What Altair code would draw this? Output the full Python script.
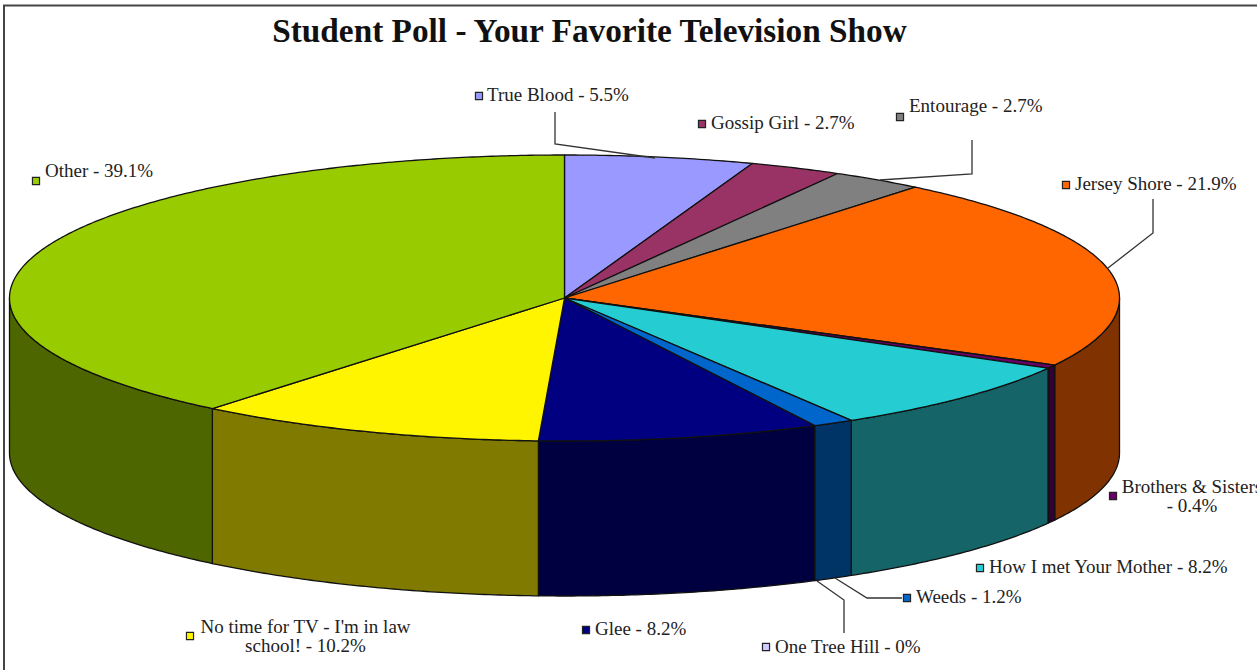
import math
import altair as alt
import pandas as pd

# Poll results, clockwise from twelve o'clock
shows = ["True Blood", "Gossip Girl", "Entourage", "Jersey Shore", "Brothers & Sisters",
         "How I met Your Mother", "Weeds", "One Tree Hill", "Glee",
         "No time for TV - I'm in law school!", "Other"]
shares = [5.5, 2.7, 2.7, 21.9, 0.4, 8.2, 1.2, 0, 8.2, 10.2, 39.1]
top_colors = ["#9999ff", "#993366", "#808080", "#ff6600", "#660066", "#25cdd2",
              "#0066cc", "#ccccff", "#000080", "#fff500", "#99cc00"]
side_colors = ["#4d4d80", "#4d1a33", "#404040", "#803300", "#330033", "#146468",
               "#003366", "#666680", "#000040", "#807a00", "#4d6600"]

# Projection of the disc onto the canvas
W, H = 1257, 670
CX, CY, RX, RY, DEPTH = 564.5, 298.0, 555.0, 143.0, 155.0
STROKE = "#111111"


def rim(angle):
    """Canvas position of a point on the disc's edge, angle in degrees clockwise from the top."""
    a = math.radians(angle)
    return CX + RX * math.sin(a), CY - RY * math.cos(a)


def arc_angles(start, end):
    n = max(2, int(abs(end - start)) * 2 + 1)
    return [start + (end - start) * i / (n - 1) for i in range(n)]


top_rows, side_rows = [], []
total = sum(shares)
start = 0.0
for name, share, fill, dark in zip(shows, shares, top_colors, side_colors):
    end = start + 360.0 * share / total
    if share > 0:
        pts = [(CX, CY)] + [rim(a) for a in arc_angles(start, end)] + [(CX, CY)]
        top_rows += [dict(show=name, fill=fill, i=i, x=x, y=y) for i, (x, y) in enumerate(pts)]
        # Only the front half of the drum wall is visible
        lo, hi = max(start, 90.0), min(end, 270.0)
        if lo < hi:
            upper = [rim(a) for a in arc_angles(lo, hi)]
            lower = [(x, y + DEPTH) for x, y in reversed(upper)]
            wall = upper + lower + upper[:1]
            side_rows += [dict(show=name, fill=dark, i=i, x=x, y=y) for i, (x, y) in enumerate(wall)]
    start = end

x_scale = alt.Scale(domain=[0, W], nice=False, zero=False)
y_scale = alt.Scale(domain=[H, 0], nice=False, zero=False)
X = alt.X("x:Q", scale=x_scale, axis=None)
Y = alt.Y("y:Q", scale=y_scale, axis=None)


def polygons(rows):
    return alt.Chart(pd.DataFrame(rows)).mark_line(
        stroke=STROKE, strokeWidth=1.3, strokeJoin="round"
    ).encode(
        x=X, y=Y,
        fill=alt.Fill("fill:N", scale=None),
        detail="show:N",
        order="i:Q",
    )


# Leader lines from the disc out to their labels
leaders = {
    "True Blood": [(555, 112), (555, 144), (655, 158)],
    "Entourage": [(972, 140), (972, 174), (880, 180)],
    "Jersey Shore": [(1153, 199), (1153, 233), (1108, 268)],
    "Weeds": [(902, 598), (867, 598), (835, 578)],
    "One Tree Hill": [(844, 633), (844, 600), (817, 581)],
}
leader_rows = [dict(show=k, i=i, x=p[0], y=p[1]) for k, path in leaders.items() for i, p in enumerate(path)]
leader_layer = alt.Chart(pd.DataFrame(leader_rows)).mark_line(color="#333333", strokeWidth=1.3).encode(
    x=X, y=Y, detail="show:N", order="i:Q"
)

# Label placement: swatch centre, then the text anchor
label_pos = {
    "True Blood": (479, 96, 487, 95),
    "Gossip Girl": (702, 124, 711, 123),
    "Entourage": (900, 117, 909, 106),
    "Jersey Shore": (1066, 185, 1075, 184),
    "Brothers & Sisters": (1113, 496, 1192, 496),
    "How I met Your Mother": (980, 568, 989, 567),
    "Weeds": (907, 598, 916, 597),
    "One Tree Hill": (766, 647, 775, 647),
    "Glee": (586, 630, 595, 629),
    "No time for TV - I'm in law school!": (190, 636, 305.5, 636),
    "Other": (36, 181, 45, 171),
}
wrapped = {
    "Brothers & Sisters": ["Brothers & Sisters", "- 0.4%"],
    "No time for TV - I'm in law school!": ["No time for TV - I'm in law", "school! - 10.2%"],
}

swatch_rows, left_rows, centre_rows = [], [], []
for name, share, fill in zip(shows, shares, top_colors):
    sx, sy, tx, ty = label_pos[name]
    swatch_rows.append(dict(x=sx, y=sy, fill=fill))
    if name in wrapped:
        lines = wrapped[name]
        centre_rows += [dict(x=tx, y=ty - 9.5 + 19.5 * i, label=t) for i, t in enumerate(lines)]
    else:
        left_rows.append(dict(x=tx, y=ty, label=f"{name} - {share:g}%"))

swatches = alt.Chart(pd.DataFrame(swatch_rows)).mark_square(
    size=50, stroke="#222222", strokeWidth=1.2, opacity=1
).encode(x=X, y=Y, fill=alt.Fill("fill:N", scale=None))

FONT = "Liberation Serif"
text_style = dict(font=FONT, fontSize=19, color="#222222", baseline="middle")
left_text = alt.Chart(pd.DataFrame(left_rows)).mark_text(align="left", **text_style).encode(x=X, y=Y, text="label:N")
centre_text = alt.Chart(pd.DataFrame(centre_rows)).mark_text(align="center", **text_style).encode(x=X, y=Y, text="label:N")

title = alt.Chart(pd.DataFrame([dict(x=589.5, y=32, label="Student Poll - Your Favorite Television Show")])).mark_text(
    font=FONT, fontSize=33.3, fontWeight="bold", color="#111111", align="center", baseline="middle"
).encode(x=X, y=Y, text="label:N")

# Picture frame along the left and top edges
frame = alt.Chart(pd.DataFrame([
    dict(i=0, x=4, y=H), dict(i=1, x=4, y=5.5), dict(i=2, x=W, y=5.5),
])).mark_line(color="#444444", strokeWidth=2).encode(x=X, y=Y, order="i:Q")

chart = alt.layer(
    frame, polygons(side_rows), polygons(top_rows), leader_layer, swatches, left_text, centre_text, title
).properties(
    width=W, height=H, padding=0, autosize=alt.AutoSizeParams(type="none"), background="white"
).configure_view(stroke=None)

chart.save("out.html", embed_options={"renderer": "svg", "actions": False})
